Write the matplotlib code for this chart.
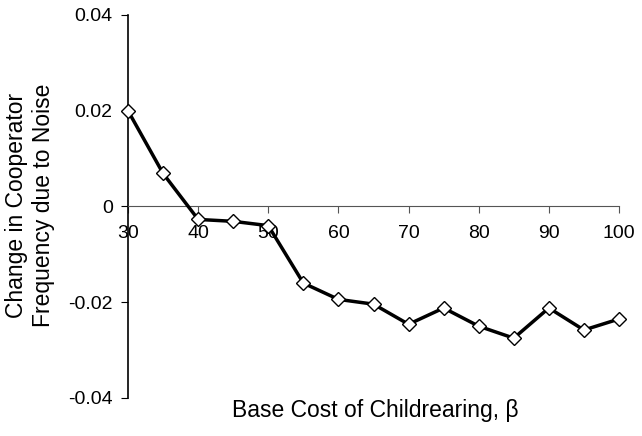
import numpy as np
import matplotlib.pyplot as plt

plt.rcParams['font.family'] = ['Liberation Sans', 'DejaVu Sans']

beta = [30, 35, 40, 45, 50, 55, 60, 65, 70, 75, 80, 85, 90, 95, 100]
change = [0.0200, 0.0069, -0.0027, -0.0031, -0.0040, -0.0160, -0.0194, -0.0204,
          -0.0246, -0.0212, -0.0250, -0.0275, -0.0212, -0.0258, -0.0235]
xticks = [30, 40, 50, 60, 70, 80, 90, 100]
yticks = [-0.04, -0.02, 0, 0.02, 0.04]
ylabels = ['-0.04', '-0.02', '0', '0.02', '0.04']

fig = plt.figure(figsize=(6.42, 4.36), dpi=100)
ax = fig.add_axes([128/642, 1 - 398/436, (619-128)/642, (398-15)/436])

ax.plot(beta, change, color='black', lw=2.5, marker='D', ms=7,
        mfc='white', mec='black', mew=1.0, zorder=3, clip_on=False)

ax.set_xlim(30, 100)
ax.set_ylim(-0.04, 0.04)
ax.set_xticks(xticks)
ax.set_yticks(yticks)
ax.set_yticklabels(ylabels)

ax.spines['top'].set_visible(False)
ax.spines['right'].set_visible(False)
ax.spines['bottom'].set_position(('data', 0))
ax.spines['bottom'].set_color('#555555')
ax.spines['left'].set_linewidth(1.2)
ax.tick_params(axis='both', labelsize=14, colors='black', length=5, direction='out')
ax.tick_params(axis='y', pad=6)
ax.tick_params(axis='x', pad=8, color='#555555')

ax.text(65.3, -0.0427, 'Base Cost of Childrearing, \u03b2', ha='center', va='center', fontsize=16.5)
fig.text(30/642, 1 - 205/436, 'Change in Cooperator\nFrequency due to Noise',
         rotation=90, ha='center', va='center', fontsize=16.5, linespacing=1.2)

fig.savefig('out.png', dpi=100)
